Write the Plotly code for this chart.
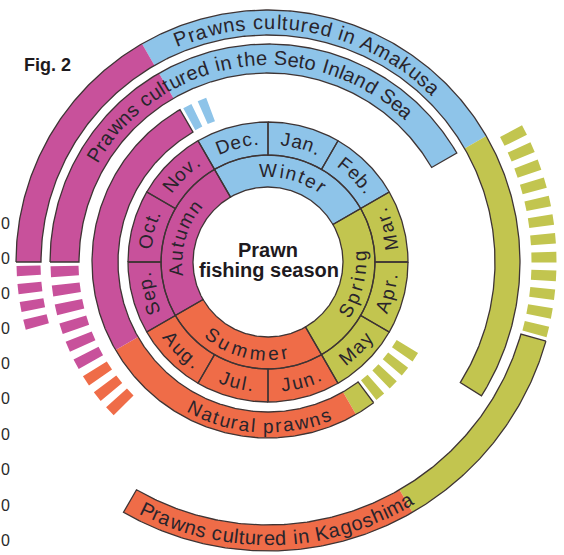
import math
import plotly.graph_objects as go

# ---------------------------------------------------------------- data
MONTHS = ["Jan.", "Feb.", "Mar.", "Apr.", "May", "Jun.",
          "Jul.", "Aug.", "Sep.", "Oct.", "Nov.", "Dec."]
SEASONS = ["Winter", "Spring", "Summer", "Autumn"]
SEASON_FIRST_MONTH = [11, 2, 5, 8]          # Dec., Mar., Jun., Sep.

# Fishing periods in months counted clockwise from 1 January
# (0 = 1 Jan, 12 = 1 Jan of the following year).
PERIODS = ["Natural prawns",
           "Prawns cultured in the Seto Inland Sea",
           "Prawns cultured in Amakusa",
           "Prawns cultured in Kagoshima"]
PERIOD_START = [4.77, 9.0, 9.0, 3.53]
PERIOD_END = [11.0, 14.0, 16.07, 7.0]
# length (months) of the tapering-off phase before the start / after the end
TAPER_BEFORE = [0.77, 1.53, 0.55, 1.5]
TAPER_AFTER = [0.35, 0.0, 0.0, 0.0]

# ---------------------------------------------------------------- style
SEASON_COLORS = ["#8ec4e9", "#c2c54f", "#ef6c48", "#c8519b"]
EDGE = "#3e3434"
TEXT = "#29242c"
FONT = "Liberation Sans, Arial, sans-serif"
CX, CY = 268.0, 262.0
R_SEASON = (75, 107)
R_MONTH = (107, 140)
RING_R = [(150, 176), (189, 218), (227, 252), (263, 289)]
DASHES_BEFORE = [4, 9, 4, 12]
DASHES_AFTER = [2, 0, 0, 0]
DASH_FILL = 0.57

W = {' ': 278, '.': 278, 'A': 667, 'D': 722, 'F': 611, 'I': 278, 'J': 500,
     'K': 667, 'M': 833, 'N': 722, 'O': 778, 'P': 667, 'S': 667, 'W': 944,
     'a': 556, 'b': 556, 'c': 500, 'd': 556, 'e': 556, 'g': 556, 'h': 556,
     'i': 222, 'k': 500, 'l': 222, 'm': 833, 'n': 556, 'o': 556, 'p': 556,
     'r': 333, 's': 500, 't': 278, 'u': 556, 'v': 500, 'w': 722, 'y': 500}


def pos(r, deg):
    a = math.radians(deg)
    return CX + r * math.sin(a), CY - r * math.cos(a)


def arc(r, a0, a1, step=0.5):
    n = max(2, int(abs(a1 - a0) / step) + 1)
    return [pos(r, a0 + (a1 - a0) * k / (n - 1)) for k in range(n)]


def sector(r0, r1, a0, a1):
    outer = arc(r1, a0, a1)
    inner = arc(r0, a1, a0)
    return outer + inner + [outer[0]]


def season_of_month(m):
    return ((int(math.floor(m + 1e-9)) % 12) + 1) % 12 // 3


fills = {c: ([], []) for c in SEASON_COLORS}
outline_x, outline_y = [], []


def add_fill(color, pts):
    xs, ys = fills[color]
    xs.extend([p[0] for p in pts] + [None])
    ys.extend([p[1] for p in pts] + [None])


def add_outline(pts):
    outline_x.extend([p[0] for p in pts] + [None])
    outline_y.extend([p[1] for p in pts] + [None])


# months ring
for i, _ in enumerate(MONTHS):
    pts = sector(R_MONTH[0], R_MONTH[1], 30 * i, 30 * (i + 1))
    add_fill(SEASON_COLORS[season_of_month(i)], pts)
    add_outline(pts)

# seasons ring
for s, first in enumerate(SEASON_FIRST_MONTH):
    a0 = 30 * first
    pts = sector(R_SEASON[0], R_SEASON[1], a0, a0 + 90)
    add_fill(SEASON_COLORS[s], pts)
    add_outline(pts)

# fishing period rings, coloured by the season they run through
for k in range(len(PERIODS)):
    r0, r1 = RING_R[k]
    a, b = PERIOD_START[k], PERIOD_END[k]
    cur = a
    while cur < b - 1e-9:
        nb = min(x + 12 * j for x in (2, 5, 8, 11) for j in range(3) if x + 12 * j > cur + 1e-9)
        end = min(nb, b)
        add_fill(SEASON_COLORS[season_of_month(cur)], sector(r0, r1, 30 * cur, 30 * end))
        cur = end
    add_outline(sector(r0, r1, 30 * a, 30 * b))

    # tapering dashes
    for n, span, sign, ref in ((DASHES_BEFORE[k], TAPER_BEFORE[k], -1, a),
                               (DASHES_AFTER[k], TAPER_AFTER[k], 1, b)):
        if n == 0:
            continue
        pitch = span / n
        for i in range(n):
            c = ref + sign * (i + 0.5) * pitch
            half = pitch * DASH_FILL / 2
            col = SEASON_COLORS[season_of_month(c % 12)]
            add_fill(col, sector(r0 + 0.5, r1 - 0.5, 30 * (c - half), 30 * (c + half)))

fig = go.Figure()
for col, (xs, ys) in fills.items():
    fig.add_trace(go.Scatter(x=xs, y=ys, mode="lines", fill="toself",
                             fillcolor=col, line=dict(width=0, color=col),
                             hoverinfo="skip"))
fig.add_trace(go.Scatter(x=outline_x, y=outline_y, mode="lines",
                         line=dict(width=1.3, color=EDGE), hoverinfo="skip"))

annotations = []


def curved(text, r, centre, size, track, inward):
    ws = [size * W[ch] / 1000 + track for ch in text]
    s = -sum(ws) / 2 + track / 2
    for ch, w in zip(text, ws):
        mid = s + w / 2
        s += w
        if ch == ' ':
            continue
        d = math.degrees(mid / r)
        th = centre - d if inward else centre + d
        x, y = pos(r, th)
        rot = th - 180 if inward else th
        rot = (rot + 180) % 360 - 180
        annotations.append(dict(x=x, y=y, xref="x", yref="y", text=ch,
                                showarrow=False, textangle=rot,
                                xanchor="center", yanchor="middle",
                                font=dict(family=FONT, size=size, color=TEXT)))


def is_inward(c):
    return 60 < c % 360 < 240


for i, m in enumerate(MONTHS):
    c = 30 * i + 15
    curved(m, 124, c, 19, 1.4, is_inward(c))
for s, name in enumerate(SEASONS):
    c = 30 * SEASON_FIRST_MONTH[s] + 45
    curved(name, 92, c, 19, 2.8, is_inward(c))

LABEL_POS = [(164, 183.5, 19, 1.4, True),
             (204, 352.0, 20, 0.7, False),
             (240, 10.8, 20, 1.2, False),
             (276, 178.0, 20, 0.5, True)]
for name, (r, c, size, track, inw) in zip(PERIODS, LABEL_POS):
    curved(name, r, c, size, track, inw)

annotations.append(dict(x=CX, y=CY - 12, xref="x", yref="y", text="<b>Prawn</b>",
                        showarrow=False, font=dict(family=FONT, size=20, color="#1e1a1e")))
annotations.append(dict(x=CX + 1, y=CY + 8, xref="x", yref="y", text="<b>fishing season</b>",
                        showarrow=False, font=dict(family=FONT, size=20, color="#1e1a1e")))
annotations.append(dict(x=47, y=65, xref="x", yref="y", text="<b>Fig. 2</b>",
                        showarrow=False, font=dict(family=FONT, size=18, color="#1e1a1e")))
for yy in [223, 258, 293, 328, 363, 398, 434, 469, 505, 540]:
    annotations.append(dict(x=0, y=yy, xref="x", yref="y", text="0", xanchor="left",
                            showarrow=False, borderpad=0,
                            font=dict(family=FONT, size=16, color="#2a2a2a")))

fig.update_layout(
    width=564, height=555, margin=dict(l=0, r=0, t=0, b=0),
    paper_bgcolor="white", plot_bgcolor="white", showlegend=False,
    xaxis=dict(range=[0, 564], visible=False, fixedrange=True),
    yaxis=dict(range=[555, 0], visible=False, fixedrange=True),
    annotations=annotations,
)
fig.write_html("out.html")
